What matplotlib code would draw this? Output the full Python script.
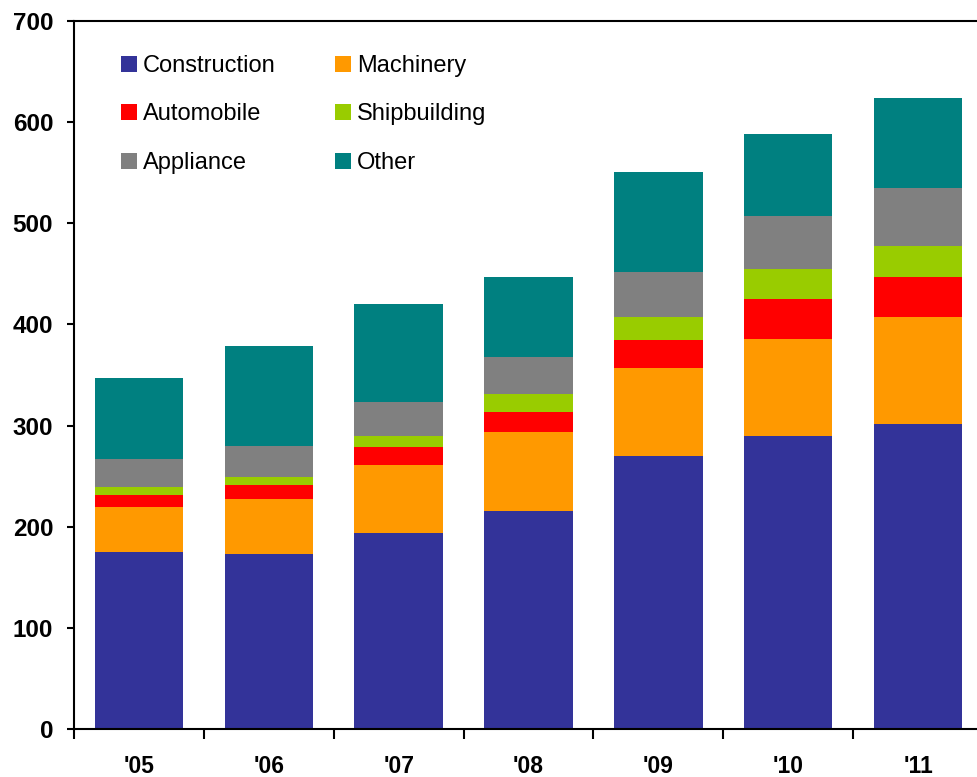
import matplotlib
matplotlib.use("Agg")
import matplotlib.pyplot as plt
import numpy as np

years = ["'05", "'06", "'07", "'08", "'09", "'10", "'11"]
construction = [175, 173, 194, 215.5, 270, 290, 302]
machinery = [44.5, 54.5, 67, 78.5, 87, 96, 105.5]
automobile = [12, 13.5, 18, 19.5, 28, 39, 39.5]
shipbuilding = [7.5, 8, 11, 17.5, 22.5, 30, 31]
appliance = [27.5, 31, 33, 37, 44.5, 52, 57]
other = [80.5, 99, 97, 79, 99, 81.5, 89]

series = [
    ("Construction", construction, "#333399"),
    ("Machinery", machinery, "#FF9900"),
    ("Automobile", automobile, "#FF0000"),
    ("Shipbuilding", shipbuilding, "#99CC00"),
    ("Appliance", appliance, "#808080"),
    ("Other", other, "#008080"),
]

W, H = 977, 777
fig = plt.figure(figsize=(W / 100, H / 100), dpi=100)
ax = fig.add_axes([74 / W, 48 / H, 909 / W, 708 / H])

x = np.arange(len(years))
bottom = np.zeros(len(years))
handles = {}
for name, vals, col in series:
    b = ax.bar(x, vals, width=0.68, bottom=bottom, color=col, label=name, zorder=2)
    handles[name] = b
    bottom += np.array(vals)

ax.set_xlim(-0.5, len(years) - 0.5)
ax.set_ylim(0, 700)
ax.set_yticks(range(0, 701, 100))
ax.set_yticklabels([str(v) for v in range(0, 701, 100)],
                   fontfamily="Liberation Sans", fontweight="bold", fontsize=17.5)
ax.tick_params(axis="y", direction="out", length=5, width=1.5, pad=10)

ax.set_xticks(x)
ax.set_xticklabels(years, fontfamily="Liberation Sans", fontweight="bold", fontsize=16.5)
ax.tick_params(axis="x", which="major", length=0, pad=19)
ax.set_xticks(np.arange(-0.5, len(years) - 0.4, 1), minor=True)
ax.tick_params(axis="x", which="minor", direction="out", length=7, width=1.5)

for s in ["left", "bottom", "top"]:
    ax.spines[s].set_linewidth(1.5)
ax.spines["right"].set_visible(False)

order = ["Construction", "Automobile", "Appliance", "Machinery", "Shipbuilding", "Other"]
leg = ax.legend([handles[n] for n in order], order, ncol=2, frameon=False,
                loc="upper left", bbox_to_anchor=(121 / W, 1 - 55 / H),
                bbox_transform=fig.transFigure, borderpad=0, borderaxespad=0,
                prop={"family": "Liberation Sans", "size": 17},
                handlelength=0.68, handleheight=0.68, handletextpad=0.25,
                columnspacing=2.5, labelspacing=1.12)

fig.savefig("out.png", dpi=100)
